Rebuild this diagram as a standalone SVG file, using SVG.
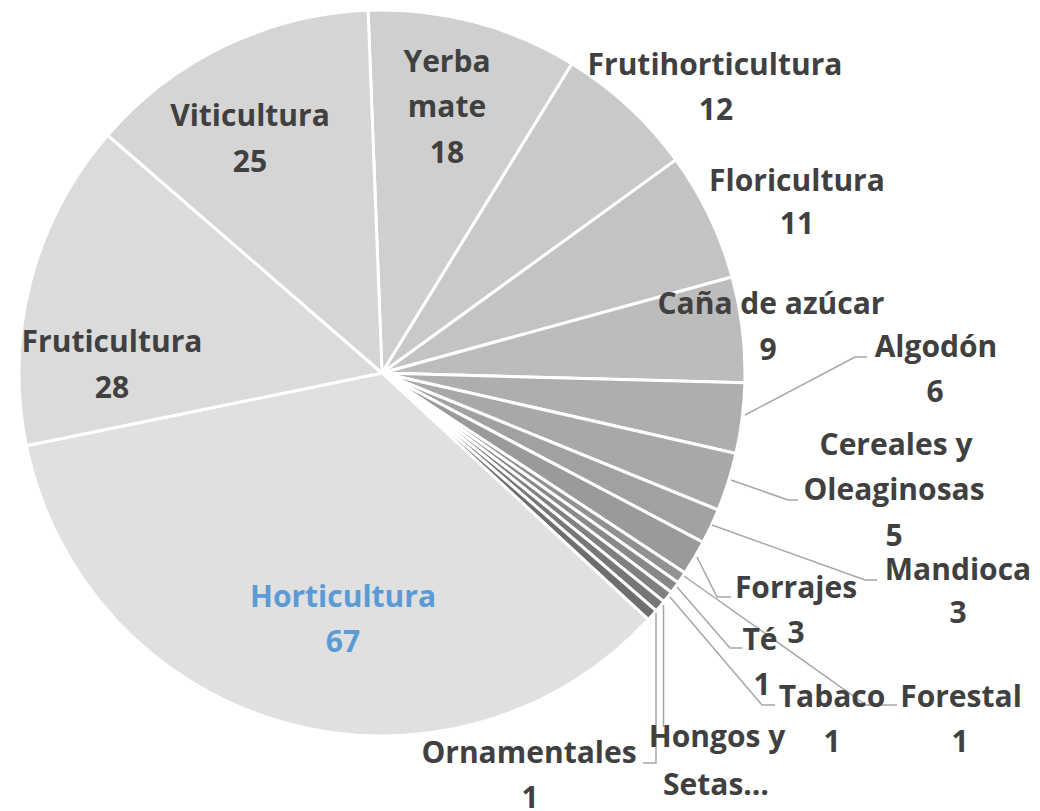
<svg xmlns="http://www.w3.org/2000/svg" width="1040" height="811" viewBox="0 0 1040 811">
<style>
.s{stroke:#ffffff;stroke-width:3;stroke-linejoin:round}
.t{font-family:"Open Sans","Liberation Sans",sans-serif;font-weight:bold;font-size:30px;fill:#404040;text-anchor:middle}
.b{fill:#5b9bd5}
.l{fill:none;stroke:#a6a6a6;stroke-width:1.5}
</style>
<rect width="1040" height="811" fill="#ffffff"/>
<g id="slices">
<g id="yerba"><path class="s" fill="#cfcfcf" d="M382,373 L368.06,10.27 A363,363 0 0 1 571.95,63.66 Z"/></g>
<g id="frutihorticultura"><path class="s" fill="#c9c9c9" d="M382,373 L571.95,63.66 A363,363 0 0 1 675.86,159.89 Z"/></g>
<g id="floricultura"><path class="s" fill="#c3c3c3" d="M382,373 L675.86,159.89 A363,363 0 0 1 732.09,277.05 Z"/></g>
<g id="cana"><path class="s" fill="#bcbcbc" d="M382,373 L732.09,277.05 A363,363 0 0 1 744.87,382.82 Z"/></g>
<g id="algodon"><path class="s" fill="#aeaeae" d="M382,373 L744.87,382.82 A363,363 0 0 1 735.98,453.42 Z"/></g>
<g id="cereales"><path class="s" fill="#a8a8a8" d="M382,373 L735.98,453.42 A363,363 0 0 1 718.16,510.01 Z"/></g>
<g id="mandioca"><path class="s" fill="#a1a1a1" d="M382,373 L718.16,510.01 A363,363 0 0 1 703.10,542.30 Z"/></g>
<g id="forrajes"><path class="s" fill="#9a9a9a" d="M382,373 L703.10,542.30 A363,363 0 0 1 684.96,572.95 Z"/></g>
<g id="forestal"><path class="s" fill="#919191" d="M382,373 L684.96,572.95 A363,363 0 0 1 678.26,582.76 Z"/></g>
<g id="te"><path class="s" fill="#888888" d="M382,373 L678.26,582.76 A363,363 0 0 1 671.27,592.30 Z"/></g>
<g id="tabaco"><path class="s" fill="#808080" d="M382,373 L671.27,592.30 A363,363 0 0 1 663.90,601.70 Z"/></g>
<g id="hongos"><path class="s" fill="#777777" d="M382,373 L663.90,601.70 A363,363 0 0 1 656.27,610.79 Z"/></g>
<g id="ornamentales"><path class="s" fill="#6e6e6e" d="M382,373 L656.27,610.79 A363,363 0 0 1 648.34,619.64 Z"/></g>
<g id="horticultura"><path class="s" fill="#e0e0e0" d="M382,373 L648.34,619.64 A363,363 0 0 1 26.38,445.83 Z"/></g>
<g id="fruticultura"><path class="s" fill="#dbdbdb" d="M382,373 L26.38,445.83 A363,363 0 0 1 107.70,135.25 Z"/></g>
<g id="viticultura"><path class="s" fill="#d5d5d5" d="M382,373 L107.70,135.25 A363,363 0 0 1 368.06,10.27 Z"/></g>
</g>
<g id="connectors">
<polyline class="l" points="745,415 855,357 867,357"/>
<polyline class="l" points="731,480 788,500 798,500"/>
<polyline class="l" points="712,525 865,580 877,580"/>
<polyline class="l" points="697,557 717,597 731,597"/>
<polyline class="l" points="684,576 866,705 897,705"/>
<polyline class="l" points="677,587 730,648 742,648"/>
<polyline class="l" points="670,597 762,705 775,705"/>
<polyline class="l" points="663.5,605 663.5,727"/>
<polyline class="l" points="656,613 656,763 643,763"/>
</g>
<g id="labels">
<g id="lbl-yerba"><text class="t" x="447" y="72">Yerba</text><text class="t" x="447" y="117">mate</text><text class="t" x="447" y="163">18</text></g>
<g id="lbl-viticultura"><text class="t" x="250" y="126">Viticultura</text><text class="t" x="250" y="172">25</text></g>
<g id="lbl-frutihorticultura"><text class="t" x="715" y="75">Frutihorticultura</text><text class="t" x="716" y="120">12</text></g>
<g id="lbl-floricultura"><text class="t" x="797" y="191">Floricultura</text><text class="t" x="797" y="234">11</text></g>
<g id="lbl-cana"><text class="t" x="771" y="314">Caña de azúcar</text><text class="t" x="768" y="360">9</text></g>
<g id="lbl-algodon"><text class="t" x="936" y="357">Algodón</text><text class="t" x="935" y="402">6</text></g>
<g id="lbl-cereales"><text class="t" x="896" y="455">Cereales y</text><text class="t" x="894" y="500">Oleaginosas</text><text class="t" x="894" y="546">5</text></g>
<g id="lbl-mandioca"><text class="t" x="958" y="580">Mandioca</text><text class="t" x="958" y="623">3</text></g>
<g id="lbl-forrajes"><text class="t" x="796" y="598">Forrajes</text><text class="t" x="796" y="643">3</text></g>
<g id="lbl-te"><text class="t" x="760" y="650">Té</text><text class="t" x="762" y="695">1</text></g>
<g id="lbl-tabaco"><text class="t" x="832" y="707">Tabaco</text><text class="t" x="832" y="752">1</text></g>
<g id="lbl-forestal"><text class="t" x="961" y="707">Forestal</text><text class="t" x="960" y="752">1</text></g>
<g id="lbl-hongos"><text class="t" x="717" y="747">Hongos y</text><text class="t" x="716" y="795">Setas…</text></g>
<g id="lbl-ornamentales"><text class="t" x="529" y="763">Ornamentales</text><text class="t" x="530" y="808">1</text></g>
<g id="lbl-fruticultura"><text class="t" x="112" y="352">Fruticultura</text><text class="t" x="112" y="398">28</text></g>
<g id="lbl-horticultura"><text class="t b" x="343" y="607">Horticultura</text><text class="t b" x="343" y="652">67</text></g>
</g>
</svg>
